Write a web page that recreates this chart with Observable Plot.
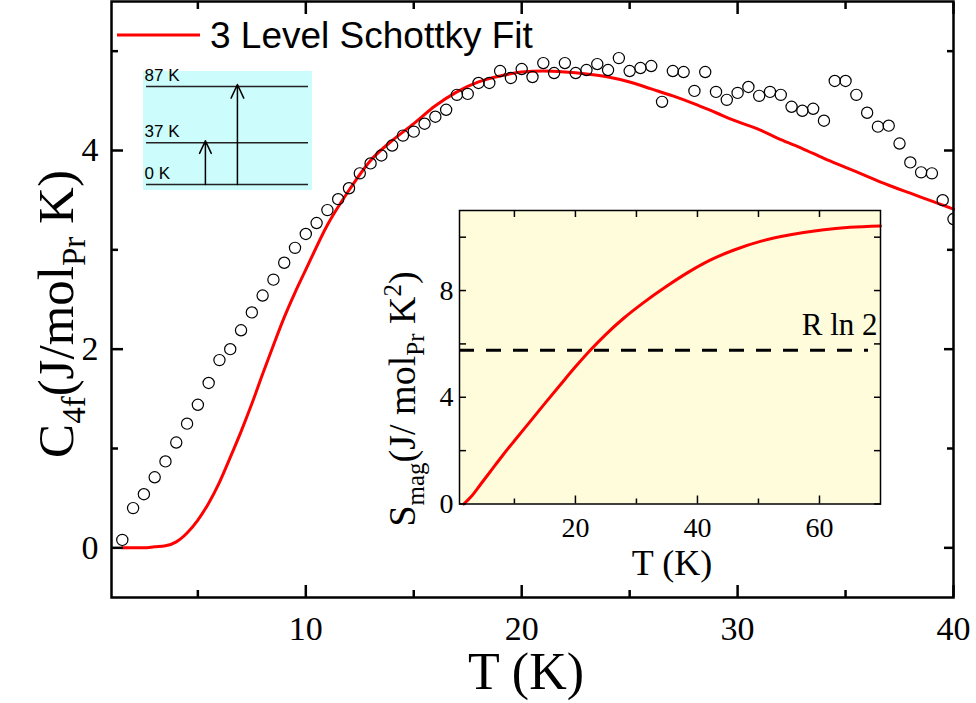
<!DOCTYPE html>
<html><head><meta charset="utf-8">
<script src="https://cdn.jsdelivr.net/npm/d3@7"></script>
<script src="https://cdn.jsdelivr.net/npm/@observablehq/plot@0.6"></script>
<style>
html,body{margin:0;padding:0;background:#fff;}
#wrap{position:relative;width:976px;height:703px;overflow:hidden;background:#fff;}
#wrap svg{position:absolute;overflow:visible;}
</style></head><body><div id="wrap"></div>
<script>
// ---- measured specific heat (circles) ----
const dataT = [1.5,2,2.5,3,3.5,4,4.5,5,5.5,6,6.5,7,7.5,8,8.5,9,9.5,10,10.5,11,11.5,12,12.5,13,13.5,14,14.5,15,15.5,16,16.5,17,17.5,18,18.5,19,19.5,20,20.5,21,21.5,22,22.5,23,23.5,24,24.5,25,25.5,26,26.5,27,27.5,28,28.5,29,29.5,30,30.5,31,31.5,32,32.5,33,33.5,34,34.5,35,35.5,36,36.5,37,37.5,38,38.5,39,39.5,40];
const dataC = [0.08,0.40,0.54,0.71,0.87,1.06,1.25,1.44,1.66,1.89,2.00,2.19,2.37,2.54,2.70,2.87,3.02,3.16,3.27,3.40,3.51,3.62,3.77,3.87,3.95,4.05,4.15,4.19,4.27,4.34,4.41,4.56,4.57,4.68,4.68,4.80,4.73,4.82,4.74,4.88,4.78,4.88,4.78,4.81,4.87,4.81,4.93,4.80,4.83,4.85,4.49,4.80,4.79,4.60,4.79,4.59,4.51,4.58,4.64,4.55,4.59,4.56,4.44,4.40,4.42,4.30,4.70,4.70,4.56,4.38,4.24,4.25,4.07,3.88,3.78,3.77,3.50,3.31];
// ---- 3 level Schottky fit (red line) ----
const fitT = [1.5,2,2.5,3,3.5,4,4.5,5,5.5,6,6.5,7,7.5,8,8.5,9,9.5,10,11,12,13,14,15,16,17,18,19,20,21,22,23,24,25,26,27,28,29,30,31,32,33,34,35,36,37,38,39,40];
const fitC = [0,0,0,0.01,0.02,0.06,0.15,0.28,0.45,0.66,0.91,1.17,1.45,1.75,2.04,2.32,2.57,2.80,3.25,3.60,3.90,4.10,4.27,4.45,4.59,4.69,4.75,4.79,4.80,4.79,4.77,4.74,4.69,4.62,4.55,4.47,4.38,4.29,4.21,4.11,4.02,3.92,3.83,3.74,3.65,3.57,3.49,3.41];
// ---- inset: magnetic entropy ----
const insetT = [1.7,3,4.5,6,8,10,12.5,15,17.5,20,22.5,25,28,31,35,38.6,42,46,50.6,55,60.4,65,70];
const insetS = [0,0.3,0.75,1.2,1.8,2.37,3.07,3.77,4.46,5.14,5.78,6.36,6.98,7.52,8.17,8.7,9.13,9.52,9.86,10.08,10.27,10.37,10.42];
const rln2 = [5.76];
const rln2Label = "R ln 2";
// ---- crystal field level scheme ----
const levelsK = [0, 37, 87];
const levelLabels = ["0 K", "37 K", "87 K"];
const transitionsTo = [37, 87];
// ---- ticks ----
const mainXTicks = [10,20,30,40], mainXMinor = [5,15,25,35];
const mainYTicks = [0,2,4], mainYMinor = [1,3,5];
const insetXTicks = [20,40,60], insetXMinor = [10,30,50];
const insetYTicks = [0,4,8], insetYMinor = [2,6,10];
const legendLabel = "3 Level Schottky Fit";

const serif = "'Liberation Serif','Times New Roman',serif";
const sans = "'Liberation Sans',Arial,sans-serif";
const data = dataT.map((t,i)=>({T:t, C:dataC[i]}));
const fit = fitT.map((t,i)=>({T:t, C:fitC[i]}));
const ent = insetT.map((t,i)=>({T:t, S:insetS[i]}));
const wrap = document.getElementById("wrap");
const fmt = d => String(d);

const main = Plot.plot({
  width: 976, height: 703,
  marginLeft: 111, marginRight: 23, marginTop: 1, marginBottom: 106,
  x: {domain: [1, 40]},
  y: {domain: [-0.5, 5.5]},
  style: {fontFamily: serif, fontSize: "34px", color: "#000", background: "transparent", overflow: "visible"},
  marks: [
    Plot.line(fit, {x: "T", y: "C", stroke: "#ff0000", strokeWidth: 3, curve: "monotone-x"}),
    Plot.dot(data, {x: "T", y: "C", r: 5.6, stroke: "#000", strokeWidth: 1.2, fill: "none", clip: true}),
    Plot.axisX({ticks: mainXTicks, tickFormat: fmt, anchor: "bottom", tickSize: 0, tickPadding: 18, label: null, fontSize: 34}),
    Plot.axisX({ticks: mainXTicks, anchor: "bottom", tickSize: -12, fill: "none", strokeWidth: 2.5, label: null}),
    Plot.axisX({ticks: mainXMinor, anchor: "bottom", tickSize: -7, fill: "none", strokeWidth: 2.5, label: null}),
    Plot.axisX({ticks: mainXTicks, anchor: "top", tickSize: -12, fill: "none", strokeWidth: 2.5, label: null}),
    Plot.axisX({ticks: mainXMinor, anchor: "top", tickSize: -7, fill: "none", strokeWidth: 2.5, label: null}),
    Plot.axisY({ticks: mainYTicks, tickFormat: fmt, anchor: "left", tickSize: 0, tickPadding: 13, label: null, fontSize: 34}),
    Plot.axisY({ticks: mainYTicks, anchor: "left", tickSize: -12, fill: "none", strokeWidth: 2.5, label: null}),
    Plot.axisY({ticks: mainYMinor, anchor: "left", tickSize: -7, fill: "none", strokeWidth: 2.5, label: null}),
    Plot.axisY({ticks: mainYTicks, anchor: "right", tickSize: -10, fill: "none", strokeWidth: 2.5, label: null}),
    Plot.axisY({ticks: mainYMinor, anchor: "right", tickSize: -7, fill: "none", strokeWidth: 2.5, label: null}),
    Plot.frame({stroke: "#000", strokeWidth: 2.5})
  ]
});
main.style.left = "0px"; main.style.top = "0px";
wrap.appendChild(main);

// axis titles and legend of the main chart
const ms = d3.select(main);
const yt = ms.append("text").attr("transform", "translate(73,314) rotate(-90)")
  .attr("text-anchor", "middle").attr("fill", "#000")
  .style("font-family", serif).style("font-size", "51px");
yt.append("tspan").text("C");
yt.append("tspan").attr("dy", 12).style("font-size", "33px").text("4f");
yt.append("tspan").attr("dy", -12).text("(J/mol");
yt.append("tspan").attr("dy", 12).style("font-size", "33px").text("Pr");
yt.append("tspan").attr("dy", -12).text(" K)");
ms.append("text").attr("x", 526).attr("y", 689).attr("text-anchor", "middle").attr("fill", "#000")
  .style("font-family", serif).style("font-size", "52px").text("T (K)");
ms.append("line").attr("x1", 117).attr("x2", 200).attr("y1", 35).attr("y2", 35)
  .attr("stroke", "#ff0000").attr("stroke-width", 3);
ms.append("text").attr("x", 210).attr("y", 48).attr("text-anchor", "start").attr("fill", "#000")
  .style("font-family", sans).style("font-size", "37px").text(legendLabel);

// crystal-field level scheme
const lv = Plot.plot({
  width: 169, height: 119,
  marginTop: 15, marginBottom: 6, marginLeft: 3, marginRight: 4,
  x: {domain: [-1.84, 3.22], axis: null},
  y: {domain: [0, 87], axis: null},
  style: {fontFamily: sans, fontSize: "17px", color: "#000", background: "#ccfcfc", overflow: "visible"},
  marks: [
    Plot.ruleY(levelsK, {stroke: "#222", strokeWidth: 1.5}),
    Plot.text(levelsK, {y: d => d, frameAnchor: "left", dx: -2, dy: -6, lineAnchor: "bottom", textAnchor: "start", text: (d, i) => levelLabels[i], fill: "#000"}),
    Plot.arrow(transitionsTo, {x: (d, i) => i, y1: () => levelsK[0], y2: d => d, stroke: "#000", strokeWidth: 1.5, headLength: 15, headAngle: 50, insetEnd: -2})
  ]
});
lv.style.left = "143px"; lv.style.top = "71px";
wrap.appendChild(lv);

// inset: magnetic entropy
const inset = Plot.plot({
  width: 510, height: 395,
  marginLeft: 79, marginRight: 10, marginTop: 15, marginBottom: 86.5,
  x: {domain: [1, 70]},
  y: {domain: [0, 11]},
  style: {fontFamily: serif, fontSize: "28px", color: "#000", background: "transparent", overflow: "visible"},
  marks: [
    Plot.frame({fill: "#fffcdc", stroke: null}),
    Plot.ruleY(rln2, {stroke: "#000", strokeWidth: 3, strokeDasharray: "15,12", insetRight: 12}),
    Plot.text(rln2, {y: d => d, frameAnchor: "right", dx: -3, dy: -15, lineAnchor: "bottom", textAnchor: "end", text: () => rln2Label, fontSize: 31, fill: "#000"}),
    Plot.line(ent, {x: "T", y: "S", stroke: "#ff0000", strokeWidth: 3, curve: "monotone-x"}),
    Plot.axisX({ticks: insetXTicks, tickFormat: fmt, anchor: "bottom", tickSize: 0, tickPadding: 13, label: null, fontSize: 28}),
    Plot.axisX({ticks: insetXTicks, anchor: "bottom", tickSize: -8, fill: "none", strokeWidth: 1.5, label: null}),
    Plot.axisX({ticks: insetXMinor, anchor: "bottom", tickSize: -5, fill: "none", strokeWidth: 1.5, label: null}),
    Plot.axisX({ticks: insetXTicks.concat(insetXMinor), anchor: "top", tickSize: -6, fill: "none", strokeWidth: 1.5, label: null}),
    Plot.axisY({ticks: insetYTicks, tickFormat: fmt, anchor: "left", tickSize: 0, tickPadding: 6, label: null, fontSize: 28}),
    Plot.axisY({ticks: insetYTicks.concat(insetYMinor), anchor: "left", tickSize: -7, fill: "none", strokeWidth: 1.5, label: null}),
    Plot.axisY({ticks: insetYTicks.concat(insetYMinor), anchor: "right", tickSize: -7, fill: "none", strokeWidth: 1.5, label: null}),
    Plot.frame({stroke: "#000", strokeWidth: 1.5})
  ]
});
inset.style.left = "380px"; inset.style.top = "195px";
wrap.appendChild(inset);

const is = d3.select(inset);
const iy = is.append("text").attr("transform", "translate(35,204) rotate(-90)")
  .attr("text-anchor", "middle").attr("fill", "#000")
  .style("font-family", serif).style("font-size", "38px");
iy.append("tspan").text("S");
iy.append("tspan").attr("dy", 9).style("font-size", "25px").text("mag");
iy.append("tspan").attr("dy", -9).text("(J/ mol");
iy.append("tspan").attr("dy", 9).style("font-size", "25px").text("Pr");
iy.append("tspan").attr("dy", -9).text(" K");
iy.append("tspan").attr("dy", -14).style("font-size", "25px").text("2");
iy.append("tspan").attr("dy", 14).text(")");
is.append("text").attr("x", 292).attr("y", 380).attr("text-anchor", "middle").attr("fill", "#000")
  .style("font-family", serif).style("font-size", "36px").text("T (K)");
</script></body></html>
